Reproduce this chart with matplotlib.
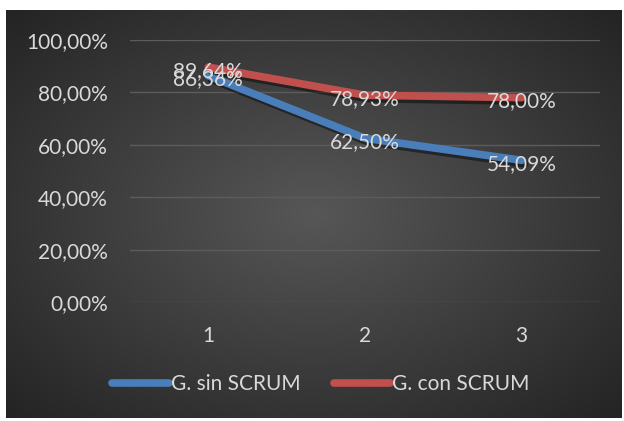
import numpy as np
import matplotlib.pyplot as plt
import matplotlib.patheffects as pe

plt.rcParams['font.family'] = ['Lato', 'DejaVu Sans']

categorias = ['1', '2', '3']
sin_scrum = [86.36, 62.50, 54.09]
con_scrum = [89.64, 78.93, 78.00]
etiquetas_y = ['0,00%', '20,00%', '40,00%', '60,00%', '80,00%', '100,00%']

W, H = 624, 421
fig = plt.figure(figsize=(W / 100, H / 100), dpi=100)
fig.patch.set_facecolor('white')

# fondo con degradado radial
bg = fig.add_axes([6 / W, 3 / H, 616 / W, 408 / H])
yy, xx = np.mgrid[-1:1:300j, -1:1:450j]
r = np.sqrt(xx ** 2 + yy ** 2) / np.sqrt(2)
g = 0.34 - 0.2 * r
img = np.dstack([g, g, g])
bg.imshow(img, aspect='auto', extent=[0, 1, 0, 1])
bg.axis('off')

ax = fig.add_axes([130 / W, (H - 302) / H, 470 / W, 262 / H])
ax.patch.set_alpha(0)
x = np.arange(len(categorias))
sombra = [pe.SimpleLineShadow(offset=(2, -2.5), alpha=0.45, shadow_color='black'), pe.Normal()]
ax.plot(x, sin_scrum, color='#4a7ebb', lw=5.5, solid_capstyle='round', path_effects=sombra, zorder=3)
ax.plot(x, con_scrum, color='#c0504d', lw=5.5, solid_capstyle='round', path_effects=sombra, zorder=3)

for serie in (con_scrum, sin_scrum):
    for xi, v in zip(x, serie):
        ax.annotate(f'{v:.2f}%'.replace('.', ','), (xi, v), xytext=(0, -2.5),
                    textcoords='offset points', ha='center', va='center',
                    color='#d9d9d9', fontsize=15, zorder=4)

ax.set_xlim(-0.5, 2.5)
ax.set_ylim(0, 100)
ax.set_yticks(np.arange(0, 101, 20))
ax.set_yticklabels(etiquetas_y)
ax.set_xticks(x)
ax.set_xticklabels(categorias)
ax.grid(axis='y', color='#5c5c5c', lw=1)
ax.set_axisbelow(True)
for s in ax.spines.values():
    s.set_visible(False)
ax.tick_params(length=0, colors='#d9d9d9', labelsize=15)
ax.tick_params(axis='y', pad=16)
ax.tick_params(axis='x', pad=17)

lineas = ax.get_lines()
leg = fig.legend(lineas, ['G. sin SCRUM', 'G. con SCRUM'], loc='center',
                 bbox_to_anchor=(321 / W, 1 - 384 / H), ncol=2, frameon=False,
                 fontsize=15, handlelength=2.7, handletextpad=0.1,
                 columnspacing=1.6, labelcolor='#d9d9d9')
for l in leg.get_lines():
    l.set_path_effects([])

fig.savefig('out.png', dpi=100)
